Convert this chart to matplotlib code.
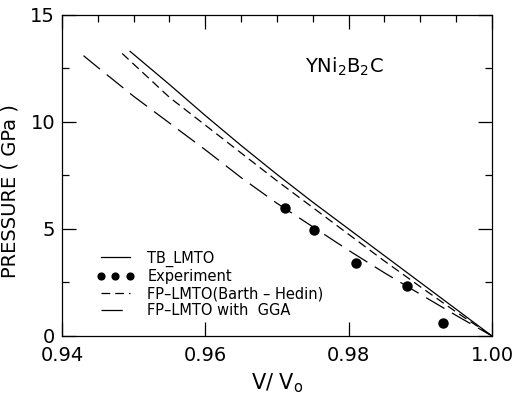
import matplotlib
matplotlib.use("Agg")
import matplotlib.pyplot as plt
from matplotlib.ticker import MultipleLocator

# Data
v_tb = [0.9495, 0.955, 0.960, 0.965, 0.970, 0.975, 0.980, 0.985, 0.990, 0.995, 1.000]
p_tb = [13.3, 11.75, 10.3, 8.9, 7.55, 6.25, 5.0, 3.75, 2.5, 1.25, 0.0]

v_bh = [0.9484, 0.955, 0.960, 0.965, 0.970, 0.975, 0.980, 0.985, 0.990, 0.995, 1.000]
p_bh = [13.2, 11.15, 9.85, 8.55, 7.25, 6.0, 4.75, 3.5, 2.3, 1.12, 0.0]

v_gga = [0.943, 0.945, 0.950, 0.955, 0.960, 0.965, 0.970, 0.975, 0.980, 0.985, 0.990, 0.995, 1.000]
p_gga = [13.1, 12.55, 11.2, 9.95, 8.7, 7.4, 6.2, 5.1, 4.0, 2.95, 1.95, 0.96, 0.0]

v_exp = [0.9711, 0.9752, 0.9810, 0.9881, 0.9932]
p_exp = [5.98, 4.95, 3.41, 2.34, 0.61]

labels = ["TB_LMTO", "Experiment", "FP\u2013LMTO(Barth \u2013 Hedin)", "FP\u2013LMTO with  GGA"]

fig = plt.figure(figsize=(5.14, 4.05), dpi=100)
ax = fig.add_axes([0.1206, 0.1704, 0.8366, 0.7926])

lw = 0.9
l1, = ax.plot(v_tb, p_tb, color="black", lw=lw)
l2, = ax.plot(v_exp, p_exp, "o", color="black", ms=6.5, ls="none")
l3, = ax.plot(v_bh, p_bh, color="black", lw=lw, dashes=(7, 4))
l4, = ax.plot(v_gga, p_gga, color="black", lw=lw, dashes=(17, 7))

ax.set_xlim(0.94, 1.00)
ax.set_ylim(0, 15)
ax.set_xticks([0.94, 0.96, 0.98, 1.00])
ax.set_xticklabels(["0.94", "0.96", "0.98", "1.00"])
ax.set_yticks([0, 5, 10, 15])
ax.xaxis.set_minor_locator(MultipleLocator(0.005))
ax.yaxis.set_minor_locator(MultipleLocator(2.5))

ax.tick_params(which="both", direction="in", top=True, right=True, width=0.9,
               labelsize=14)
ax.tick_params(axis="x", pad=7)
ax.tick_params(axis="y", pad=5)
ax.tick_params(which="major", length=10)
ax.tick_params(which="minor", length=5)
ax.tick_params(axis="x", which="minor", bottom=False)
for s in ax.spines.values():
    s.set_linewidth(0.9)

ax.set_ylabel("PRESSURE ( GPa )", fontsize=14)
ax.yaxis.set_label_coords(-0.098, 0.45)
ax.set_xlabel("V/ V$_\\mathregular{o}$", fontsize=15, labelpad=5)

ax.text(0.9739, 12.3, "YNi$_\\mathregular{2}$B$_\\mathregular{2}$C", fontsize=14)

ax.legend([l1, l2, l3, l4], labels, loc="lower left", bbox_to_anchor=(0.08, 0.055),
          frameon=False, fontsize=10.5, numpoints=3, markerscale=0.75,
          handlelength=2.6, handletextpad=0.9, labelspacing=0.15,
          borderpad=0, borderaxespad=0)

fig.savefig("out.png", dpi=100)
